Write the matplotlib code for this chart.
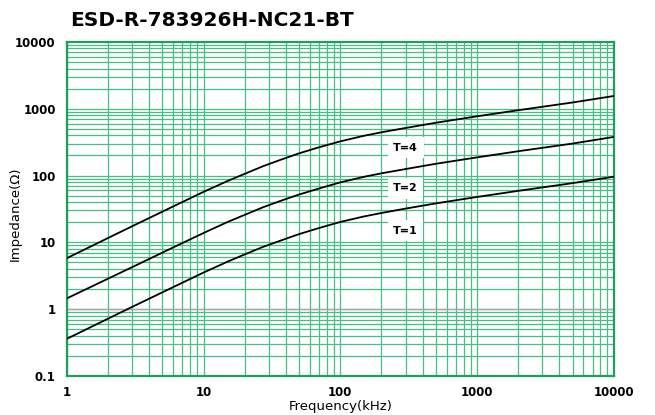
import matplotlib.pyplot as plt
import numpy as np

# frequency (kHz) and impedance (ohm)
freq = [1, 3, 6, 10, 15, 20, 27, 36, 50, 70, 100, 150, 200, 300, 500,
        1000, 2000, 5000, 10000]
t4 = [5.8, 17.4, 34.5, 57, 83, 106, 137, 170, 215, 265, 325, 395, 444, 515, 617,
      770, 950, 1240, 1550]
t2 = [1.45, 4.25, 8.4, 13.8, 20.2, 25.8, 33.3, 41.3, 52, 64, 79, 96, 108, 125, 150,
      187, 231, 301, 378]
t1 = [0.36, 1.08, 2.14, 3.53, 5.15, 6.6, 8.5, 10.5, 13.3, 16.4, 20.2, 24.5, 27.5, 32, 38.3,
      47.8, 59, 77, 96]

labels = ['T=4', 'T=2', 'T=1']
label_pos = [(300, 262), (300, 64), (300, 15)]

xticks = [1, 10, 100, 1000, 10000]
yticks = [0.1, 1, 10, 100, 1000, 10000]

grid_green = '#46BF85'
spine_green = '#1F9E5C'

fig = plt.figure(figsize=(6.55, 4.15), dpi=100)
ax = fig.add_axes([0.102, 0.094, 0.835, 0.805])

ax.set_xscale('log')
ax.set_yscale('log')
ax.set_xlim(1, 10000)
ax.set_ylim(0.1, 10000)

# log grid, major + minor
for d in range(0, 4):
    for m in range(1, 10):
        ax.axvline(m * 10**d, color=grid_green, lw=0.9, zorder=1)
for d in range(-1, 4):
    for m in range(1, 10):
        ax.axhline(m * 10.0**d, color=grid_green, lw=0.9, zorder=1)
ax.axhline(1, color='#A8A8A8', lw=1.0, zorder=1.5)

for ys in (t4, t2, t1):
    ax.plot(freq, ys, color='black', lw=1.3, zorder=3)

for lab, (x, y) in zip(labels, label_pos):
    ax.text(x, y, lab, ha='center', va='center', fontsize=8, fontweight='bold',
            bbox=dict(facecolor='white', edgecolor='none', pad=4), zorder=4)

ax.set_xticks(xticks)
ax.set_xticklabels([str(v) for v in xticks], fontweight='bold', fontsize=8.5)
ax.set_yticks(yticks)
ax.set_yticklabels(['0.1', '1', '10', '100', '1000', '10000'], fontweight='bold', fontsize=8.5)
ax.minorticks_off()
ax.tick_params(length=0, pad=8)
ax.tick_params(axis='x', pad=7)

for s in ax.spines.values():
    s.set_color(spine_green)
    s.set_linewidth(1.6)

ax.set_xlabel('Frequency(kHz)', fontsize=9.5)
ax.xaxis.set_label_coords(0.5, -0.072)
ax.set_ylabel('Impedance(Ω)', fontsize=9.5)
ax.yaxis.set_label_coords(-0.083, 0.485)

fig.text(0.107, 0.95, 'ESD-R-783926H-NC21-BT', fontsize=14.5, fontweight='bold',
         ha='left', va='center')

plt.savefig('out.png')
